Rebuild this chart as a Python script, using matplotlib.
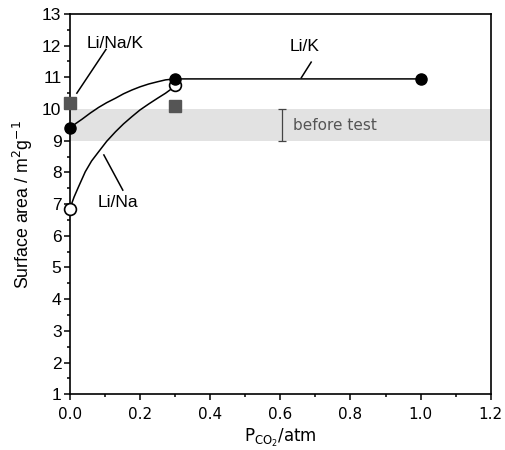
import matplotlib.pyplot as plt
import numpy as np

plt.rcParams["font.family"] = ["Liberation Sans", "DejaVu Sans"]
plt.rcParams["mathtext.fontset"] = "custom"
plt.rcParams["mathtext.rm"] = "DejaVu Sans"
plt.rcParams["mathtext.it"] = "DejaVu Sans:italic"

# measured points
lik_x = [0.0, 0.3, 1.0]
lik_y = [9.4, 10.95, 10.95]
lina_x = [0.0, 0.3]
lina_y = [6.85, 10.75]
linak_x = [0.0, 0.3]
linak_y = [10.2, 10.1]

# guide curves
lik_curve_x = [0.0, 0.018, 0.035, 0.058, 0.082, 0.105, 0.13, 0.153, 0.177,
               0.2, 0.225, 0.25, 0.273, 0.3, 1.0]
lik_curve_y = [9.4, 9.55, 9.68, 9.87, 10.05, 10.2, 10.34, 10.48, 10.6,
               10.7, 10.79, 10.86, 10.92, 10.95, 10.95]
lina_curve_x = [0.0, 0.012, 0.025, 0.044, 0.062, 0.082, 0.105, 0.13, 0.153,
                0.177, 0.2, 0.225, 0.25, 0.273, 0.3]
lina_curve_y = [6.85, 7.22, 7.55, 8.02, 8.36, 8.65, 8.98, 9.28, 9.53,
                9.76, 9.97, 10.16, 10.34, 10.5, 10.72]

# "before test" range
band_lo, band_hi = 9.0, 10.0
bar_x = 0.605

fig = plt.figure(figsize=(5.06, 4.5), dpi=100)
ax = fig.add_axes([0.138, 0.124, 0.832, 0.845])

ax.axhspan(band_lo, band_hi, color="#e2e2e2", lw=0, zorder=0)
ax.errorbar([bar_x], [(band_lo + band_hi) / 2], yerr=[(band_hi - band_lo) / 2],
            fmt="none", ecolor="#444444", elinewidth=0.9, capsize=3, capthick=0.9)
ax.text(bar_x + 0.03, 9.47, "before test", fontsize=11, color="#555555",
        family=["DejaVu Sans"], va="center", ha="left")

ax.plot(lik_curve_x, lik_curve_y, color="black", lw=1.1, zorder=2)
ax.plot(lina_curve_x, lina_curve_y, color="black", lw=1.1, zorder=2)

ax.plot(lik_x, lik_y, "o", color="black", ms=8, ls="none", zorder=4,
        clip_on=False)
ax.plot(lina_x, lina_y, "o", mfc="white", mec="black", mew=1.2, ms=8.5,
        ls="none", zorder=3, clip_on=False)
ax.plot(linak_x, linak_y, "s", color="#555555", ms=8.5, ls="none", zorder=3,
        clip_on=False)

# labels with pointer lines
ax.text(0.13, 12.08, "Li/Na/K", fontsize=12.5, ha="center", va="center")
ax.plot([0.103, 0.02], [11.88, 10.5], color="black", lw=1.1)
ax.text(0.67, 11.96, "Li/K", fontsize=12.5, ha="center", va="center")
ax.plot([0.66, 0.688], [10.99, 11.48], color="black", lw=1.1)
ax.text(0.136, 7.06, "Li/Na", fontsize=12.5, ha="center", va="center")
ax.plot([0.097, 0.151], [8.55, 7.44], color="black", lw=1.1)

ax.set_xlim(0, 1.2)
ax.set_ylim(1, 13)
ax.set_xticks(np.arange(0, 1.21, 0.2))
ax.set_xticks(np.arange(0.1, 1.2, 0.2), minor=True)
ax.set_yticks(np.arange(1, 14, 1))
ax.set_yticks(np.arange(1.5, 13, 1), minor=True)
ax.set_xticklabels([f"{v:.1f}" for v in np.arange(0, 1.21, 0.2)],
                   family="DejaVu Sans", fontsize=11)
ax.tick_params(axis="both", which="major", direction="out", length=4, width=1.1)
ax.tick_params(axis="both", which="minor", direction="out", length=2.5, width=1.1)
ax.tick_params(axis="y", labelsize=12.5, pad=2)
ax.tick_params(axis="x", pad=5)
for s in ax.spines.values():
    s.set_linewidth(1.2)

ax.set_ylabel(r"Surface area / m$^2$g$^{-1}$", fontsize=12.8, labelpad=5)
ax.set_xlabel(r"P$_{\mathregular{CO}_2}$/atm", fontsize=12, labelpad=4,
              family="DejaVu Sans")

fig.savefig("out.png", dpi=100)
